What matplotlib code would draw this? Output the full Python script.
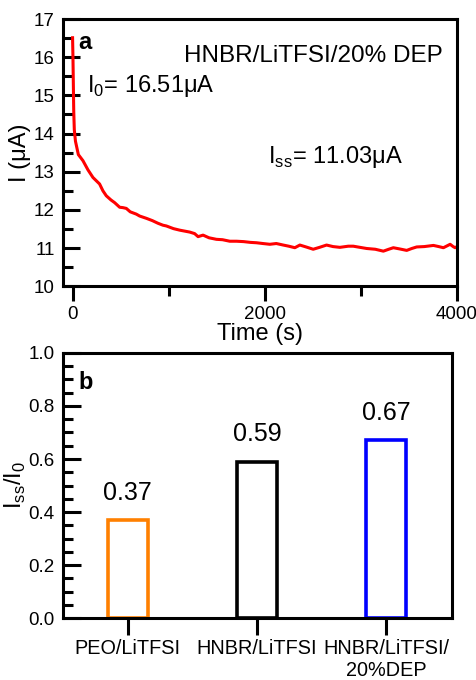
import matplotlib.pyplot as plt

plt.rcParams['font.family'] = ['Liberation Sans', 'DejaVu Sans']
plt.rcParams['mathtext.fontset'] = 'custom'
plt.rcParams['mathtext.rm'] = 'Liberation Sans'

# panel a: current decay
time_s = [0, 4, 8, 12, 18, 30, 60, 108, 160, 212, 281, 316, 351, 400, 438,
          490, 524, 559, 600, 663, 698, 768, 830, 889, 940, 976, 1050, 1115,
          1219, 1270, 1306, 1358, 1420, 1497, 1560, 1636, 1706, 1780, 1850,
          1914, 1980, 2053, 2120, 2192, 2250, 2313, 2365, 2430, 2504, 2570,
          2643, 2710, 2782, 2869, 2921, 2990, 3060, 3150, 3234, 3290, 3338,
          3400, 3477, 3530, 3581, 3660, 3755, 3810, 3859, 3929, 3960, 3981, 4000]
current_uA = [16.51, 16.0, 15.3, 14.6, 14.1, 13.8, 13.45, 13.29, 13.05, 12.85,
              12.68, 12.5, 12.37, 12.26, 12.19, 12.07, 12.06, 12.04, 11.95,
              11.89, 11.84, 11.78, 11.72, 11.65, 11.60, 11.58, 11.51, 11.47,
              11.42, 11.38, 11.30, 11.34, 11.27, 11.23, 11.22, 11.18, 11.18,
              11.17, 11.15, 11.14, 11.12, 11.10, 11.12, 11.08, 11.05, 11.01,
              11.08, 11.03, 10.97, 11.02, 11.08, 11.04, 11.02, 11.05, 11.05,
              11.02, 10.99, 10.97, 10.92, 10.97, 11.01, 10.98, 10.94, 10.99,
              11.03, 11.04, 11.07, 11.04, 11.01, 11.10, 11.04, 11.01, 11.04]

# panel b: Iss/I0 ratios
samples = ['PEO/LiTFSI', 'HNBR/LiTFSI', 'HNBR/LiTFSI/\n20%DEP']
ratios = [0.37, 0.59, 0.67]
bar_colors = ['#ff8000', 'black', 'blue']

fig = plt.figure(figsize=(4.77, 6.80), dpi=100)

# ---- panel a ----
ax1 = fig.add_axes([0.132, 0.579, 0.826, 0.393])
ax1.plot(time_s, current_uA, color='red', lw=2.2)
ax1.set_xlim(-100, 4000)
ax1.set_ylim(10, 17)
ax1.set_xticks([0, 2000, 4000])
ax1.set_xticks([1000, 3000], minor=True)
ax1.set_yticks(range(10, 18))
ax1.set_yticks([10.5 + i for i in range(7)], minor=True)
ax1.tick_params(axis='y', which='major', direction='in', length=12, width=2.2,
                labelsize=13.5, pad=6)
ax1.tick_params(axis='y', which='minor', direction='in', length=7, width=2.2)
ax1.tick_params(axis='x', which='major', direction='out', length=11, width=2.2,
                labelsize=13.5, pad=3)
ax1.tick_params(axis='x', which='minor', direction='out', length=7, width=2.2)
for s in ax1.spines.values():
    s.set_linewidth(2.2)
ax1.set_xlabel('Time (s)', fontsize=17, labelpad=0)
ax1.set_ylabel('I (μA)', fontsize=17, labelpad=2)
ax1.text(0.04, 0.955, 'a', transform=ax1.transAxes, fontsize=17,
         fontweight='bold', va='top')
ax1.text(0.965, 0.86, 'HNBR/LiTFSI/20% DEP', transform=ax1.transAxes,
         fontsize=17.5, ha='right', va='center')
ax1.text(0.06, 0.75, r'I$_0$= 16.51μA', transform=ax1.transAxes,
         fontsize=17, va='center')
ax1.text(0.52, 0.485, r'I$_{\mathregular{ss}}$= 11.03μA', transform=ax1.transAxes,
         fontsize=17, va='center')

# ---- panel b ----
ax2 = fig.add_axes([0.132, 0.091, 0.816, 0.39])
xpos = range(len(samples))
ax2.bar(xpos, ratios, width=0.31, facecolor='none', edgecolor=bar_colors,
        linewidth=2.6)
for x, v in zip(xpos, ratios):
    ax2.annotate(f'{v:.2f}', (x, v), xytext=(0, 11), textcoords='offset points',
                 ha='center', va='bottom', fontsize=18)
ax2.set_xlim(-0.5, 2.51)
ax2.set_ylim(0, 1.0)
ax2.set_xticks(list(xpos))
ax2.set_xticklabels(samples, fontsize=14.3)
ax2.set_yticks([0.0, 0.2, 0.4, 0.6, 0.8, 1.0])
ax2.set_yticklabels(['0.0', '0.2', '0.4', '0.6', '0.8', '1.0'])
ax2.set_yticks([0.05 * i for i in range(21) if i % 4], minor=True)
ax2.tick_params(axis='y', which='major', direction='in', length=13, width=2.2,
                labelsize=13.5, pad=6)
ax2.tick_params(axis='y', which='minor', direction='in', length=7, width=2.2)
ax2.tick_params(axis='x', which='major', direction='out', length=12, width=2.2,
                pad=3)
for s in ax2.spines.values():
    s.set_linewidth(2.2)
ax2.set_ylabel(r'I$_{\mathregular{ss}}$/I$_0$', fontsize=17, labelpad=0)
ax2.text(0.04, 0.93, 'b', transform=ax2.transAxes, fontsize=17,
         fontweight='bold', va='top')

fig.savefig('out.png', dpi=100)
